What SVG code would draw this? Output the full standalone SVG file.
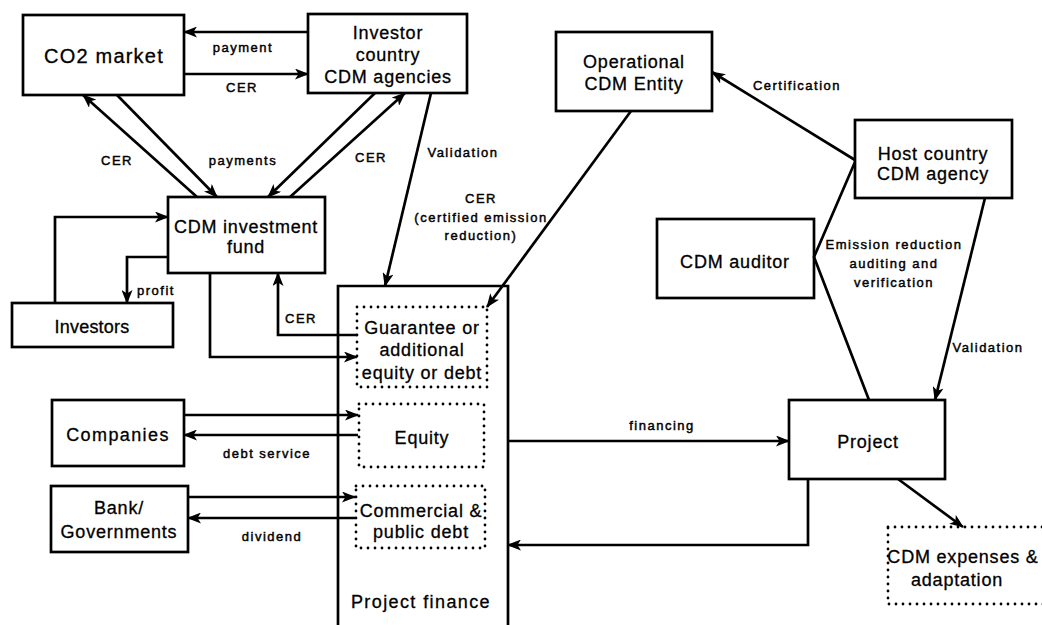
<svg xmlns="http://www.w3.org/2000/svg" width="1042" height="625" viewBox="0 0 1042 625">
  <defs>
    <style>
      .box { fill: #fff; stroke: #000; stroke-width: 2.7; }
      .dot { fill: none; stroke: #000; stroke-width: 2.8; stroke-linecap: round; stroke-dasharray: 0 7; }
      .w { fill: none; stroke: #000; stroke-width: 2.7; stroke-linejoin: miter; }
      .a { marker-end: url(#ah); }
      .t { font-family: "Liberation Sans", Arial, sans-serif; font-size: 18px; text-anchor: middle; letter-spacing: 0.8px; fill: #000; stroke: #000; stroke-width: 0.3px; }
      .l { font-family: "Liberation Sans", Arial, sans-serif; font-size: 13px; text-anchor: middle; letter-spacing: 1.5px; fill: #000; stroke: #000; stroke-width: 0.45px; }
    </style>
    <marker id="ah" viewBox="0 0 14 11" refX="13" refY="5.5" markerWidth="14" markerHeight="11" markerUnits="userSpaceOnUse" orient="auto">
      <path d="M0,0 L14,5.5 L0,11 L3.5,5.5 Z" fill="#000"/>
    </marker>
  </defs>

  <rect width="1042" height="625" fill="#fff"/>

  <!-- nodes -->
  <g id="co2-market">
    <rect class="box" x="23" y="15" width="161" height="80"/>
    <text class="t" x="104" y="63" style="font-size:20px;letter-spacing:1.2px">CO2 market</text>
  </g>
  <g id="investor-agencies">
    <rect class="box" x="308" y="14" width="159" height="79"/>
    <text class="t" x="388" y="39">Investor</text>
    <text class="t" x="388" y="61">country</text>
    <text class="t" x="388" y="83">CDM agencies</text>
  </g>
  <g id="operational-entity">
    <rect class="box" x="556" y="32" width="156" height="79"/>
    <text class="t" x="634" y="68">Operational</text>
    <text class="t" x="634" y="90">CDM Entity</text>
  </g>
  <g id="host-agency">
    <rect class="box" x="855" y="120" width="157" height="78"/>
    <text class="t" x="933" y="160">Host country</text>
    <text class="t" x="933" y="180">CDM agency</text>
  </g>
  <g id="cdm-auditor">
    <rect class="box" x="657" y="219" width="157" height="79"/>
    <text class="t" x="735" y="268">CDM auditor</text>
  </g>
  <g id="investment-fund">
    <rect class="box" x="168" y="197" width="157" height="76"/>
    <text class="t" x="246" y="233">CDM investment</text>
    <text class="t" x="246" y="253">fund</text>
  </g>
  <g id="investors">
    <rect class="box" x="12" y="303" width="161" height="44"/>
    <text class="t" x="92" y="333" style="letter-spacing:0.2px">Investors</text>
  </g>
  <g id="companies">
    <rect class="box" x="52" y="400" width="132" height="66"/>
    <text class="t" x="118" y="441" style="letter-spacing:1.4px">Companies</text>
  </g>
  <g id="bank-governments">
    <rect class="box" x="51" y="486" width="137" height="66"/>
    <text class="t" x="119" y="514">Bank/</text>
    <text class="t" x="119" y="538">Governments</text>
  </g>
  <g id="project-finance">
    <path class="box" d="M338,640 V286 H508 V640"/>
    <text class="t" x="421" y="608" style="letter-spacing:1.4px">Project finance</text>
  </g>
  <g id="guarantee">
    <rect class="dot" x="357" y="307" width="130" height="80"/>
    <text class="t" x="422" y="334">Guarantee or</text>
    <text class="t" x="422" y="356">additional</text>
    <text class="t" x="422" y="379">equity or debt</text>
  </g>
  <g id="equity">
    <rect class="dot" x="359" y="404" width="125" height="63"/>
    <text class="t" x="422" y="444">Equity</text>
  </g>
  <g id="debt">
    <rect class="dot" x="356" y="486" width="129" height="62"/>
    <text class="t" x="421" y="517">Commercial &amp;</text>
    <text class="t" x="421" y="538">public debt</text>
  </g>
  <g id="project">
    <rect class="box" x="789" y="400" width="156" height="79"/>
    <text class="t" x="868" y="448">Project</text>
  </g>
  <g id="cdm-expenses">
    <rect class="dot" x="888" y="527" width="165" height="77"/>
    <text class="t" x="963" y="563">CDM expenses &amp;</text>
    <text class="t" x="957" y="586">adaptation</text>
  </g>

  <!-- connectors -->
  <g id="connectors">
    <path class="w a" d="M308,32 H184"/>
    <path class="w a" d="M184,74 H308"/>
    <path class="w a" d="M197,197 L83,95"/>
    <path class="w a" d="M117,95 L217,197"/>
    <path class="w a" d="M375,93 L268,197"/>
    <path class="w a" d="M290,197 L405,93"/>
    <path class="w a" d="M431,93 L385,286"/>
    <path class="w a" d="M631,111 L487,307"/>
    <path class="w a" d="M855,160 L712,72"/>
    <path class="w" d="M855,162 L814,257 L869,400"/>
    <path class="w a" d="M985,198 L935,400"/>
    <path class="w a" d="M508,441 H789"/>
    <path class="w a" d="M808,479 V545 H508"/>
    <path class="w a" d="M898,479 L963,527"/>
    <path class="w a" d="M55,303 V217 H168"/>
    <path class="w a" d="M168,257 H127 V303"/>
    <path class="w a" d="M357,335 H278 V273"/>
    <path class="w a" d="M210,273 V357 H357"/>
    <path class="w a" d="M184,415 H358"/>
    <path class="w a" d="M358,435 H184"/>
    <path class="w a" d="M188,497 H355"/>
    <path class="w a" d="M355,518 H188"/>
  </g>

  <!-- connector labels -->
  <g id="labels">
    <text class="l" x="243" y="52">payment</text>
    <text class="l" x="242" y="92">CER</text>
    <text class="l" x="117" y="165">CER</text>
    <text class="l" x="243" y="165">payments</text>
    <text class="l" x="371" y="162">CER</text>
    <text class="l" x="463" y="157">Validation</text>
    <text class="l" x="481" y="203">CER</text>
    <text class="l" x="481" y="222">(certified emission</text>
    <text class="l" x="481" y="240">reduction)</text>
    <text class="l" x="797" y="90">Certification</text>
    <text class="l" x="894" y="249">Emission reduction</text>
    <text class="l" x="894" y="268">auditing and</text>
    <text class="l" x="894" y="287">verification</text>
    <text class="l" x="988" y="352">Validation</text>
    <text class="l" x="662" y="430">financing</text>
    <text class="l" x="267" y="458">debt service</text>
    <text class="l" x="272" y="541">dividend</text>
    <text class="l" x="301" y="323">CER</text>
    <text class="l" x="156" y="295">profit</text>
  </g>
</svg>
